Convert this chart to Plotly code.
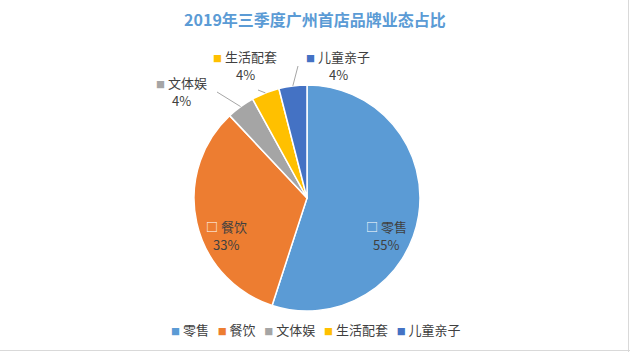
import math
import plotly.graph_objects as go

categories = ["零售", "餐饮", "文体娱", "生活配套", "儿童亲子"]
values = [55, 33, 4, 4, 4]
colors = ["#5B9BD5", "#ED7D31", "#A5A5A5", "#FFC000", "#4472C4"]
title_text = "2019年三季度广州首店品牌业态占比"

W, H = 630, 352
CX, CY, R = 307, 198, 113  # pie centre / radius in px (layout)

def px(x):
    return x / W

def py(y):
    return 1 - y / H

fig = go.Figure()
fig.add_trace(go.Pie(
    labels=categories, values=values, sort=False, direction="clockwise",
    rotation=0, marker=dict(colors=colors, line=dict(color="white", width=1.5)),
    textinfo="none", hoverinfo="label+percent", showlegend=False,
    domain=dict(x=[px(CX - R), px(CX + R)], y=[py(CY + R), py(CY - R)]),
))

# label placement (layout, px): centre of the label block
label_pos = {
    "零售": (386, 235, "inside"),
    "餐饮": (226, 235, "inside"),
    "文体娱": (181, 91, "outside"),
    "生活配套": (245, 65, "outside"),
    "儿童亲子": (338, 65, "outside"),
}
# leader line end near the label (px)
leader_end = {
    "文体娱": (217, 92),
    "生活配套": (258, 90),
    "儿童亲子": (298, 66),
}

FONT = "Noto Sans CJK SC"
total = sum(values)
cum = 0
annotations = []
shapes = []
legend_parts = []
for cat, v, col in zip(categories, values, colors):
    mid = (cum + v / 2) / total * 2 * math.pi
    cum += v
    pct = round(v / total * 100)
    lx, ly, kind = label_pos[cat]
    if kind == "inside":
        sq = '<span style="color:white;font-size:12px">□</span>'
    else:
        sq = f'<span style="color:{col};font-size:9px">■</span>'
    annotations.append(dict(
        x=px(lx), y=py(ly - 8.5), xref="paper", yref="paper",
        text=f"{sq} {cat}", showarrow=False, align="center",
        font=dict(size=13, color="#404040", family=FONT),
        xanchor="center", yanchor="middle",
    ))
    annotations.append(dict(
        x=px(lx), y=py(ly + 9), xref="paper", yref="paper",
        text=f"{pct}%", showarrow=False, align="center",
        font=dict(size=13, color="#404040", family=FONT),
        xanchor="center", yanchor="middle",
    ))
    legend_parts.append(f'<span style="color:{col};font-size:9px">■</span> {cat}')
    if cat in leader_end:
        ox = CX + R * math.sin(mid)
        oy = CY - R * math.cos(mid)
        ex, ey = leader_end[cat]
        shapes.append(dict(type="line", xref="paper", yref="paper",
                           x0=px(ox), y0=py(oy), x1=px(ex), y1=py(ey),
                           line=dict(color="#A6A6A6", width=1)))

# compact legend along the bottom
annotations.append(dict(
    x=px(316), y=py(329), xref="paper", yref="paper",
    text="&nbsp;&nbsp;&nbsp;".join(legend_parts), showarrow=False,
    font=dict(size=13, color="#404040", family=FONT),
    xanchor="center", yanchor="middle",
))

# faint outer frame lines (right/bottom)
shapes.append(dict(type="line", xref="paper", yref="paper", x0=px(W - 1.5), y0=0, x1=px(W - 1.5), y1=1,
                   line=dict(color="#D9D9D9", width=1)))
shapes.append(dict(type="line", xref="paper", yref="paper", x0=0, y0=py(H - 1.5), x1=1, y1=py(H - 1.5),
                   line=dict(color="#D9D9D9", width=1)))

fig.update_layout(
    width=W, height=H,
    margin=dict(l=0, r=0, t=0, b=0),
    paper_bgcolor="white", plot_bgcolor="white",
    title=dict(text=f"<b>{title_text}</b>", x=0.5, xanchor="center", y=py(20), yanchor="middle",
               font=dict(size=16, color="#5B9BD5", family=FONT)),
    showlegend=False,
    annotations=annotations,
    shapes=shapes,
)

fig.write_html("out.html")
